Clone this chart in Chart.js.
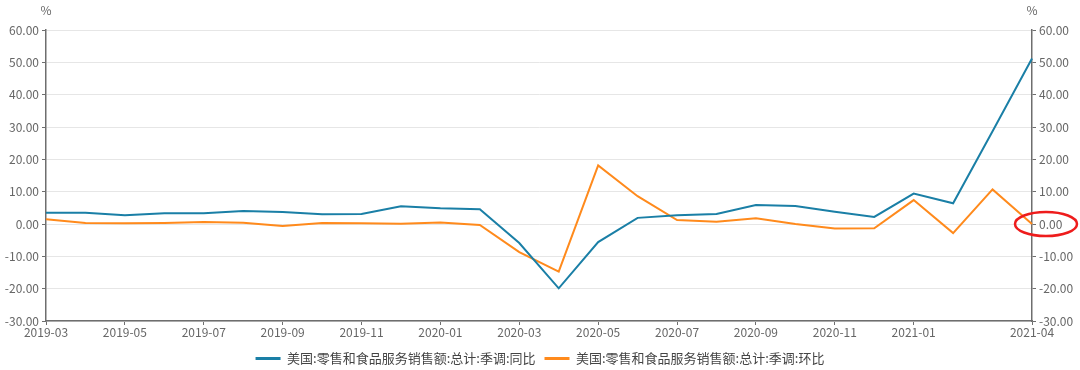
<!DOCTYPE html>
<html>
<head>
<meta charset="utf-8">
<script src="https://cdn.jsdelivr.net/npm/chart.js@4/dist/chart.umd.min.js"></script>
<style>
  html, body { margin:0; padding:0; background:#fff; }
  #wrap { width:1080px; height:370px; position:relative; }
</style>
</head>
<body>
<div id="wrap"><canvas id="retailChart" width="1080" height="370"></canvas></div>
<script>
// months on the x axis
const months = ['2019-03','2019-04','2019-05','2019-06','2019-07','2019-08','2019-09','2019-10','2019-11','2019-12',
  '2020-01','2020-02','2020-03','2020-04','2020-05','2020-06','2020-07','2020-08','2020-09','2020-10','2020-11','2020-12',
  '2021-01','2021-02','2021-03','2021-04'];
// 同比 (yoy) and 环比 (mom), %
const yoy = [3.5, 3.5, 2.7, 3.3, 3.3, 4.0, 3.7, 3.0, 3.1, 5.5, 4.9, 4.6, -5.9, -19.9, -5.6, 1.9, 2.7, 3.1, 5.9, 5.6, 3.8, 2.2, 9.4, 6.4, 28.7, 51.2];
const mom = [1.5, 0.3, 0.2, 0.3, 0.6, 0.4, -0.6, 0.3, 0.2, 0.1, 0.5, -0.3, -8.7, -14.7, 18.1, 8.6, 1.2, 0.7, 1.8, 0.0, -1.4, -1.3, 7.4, -2.8, 10.7, 0.0];
const seriesNames = ['美国:零售和食品服务销售额:总计:季调:同比', '美国:零售和食品服务销售额:总计:季调:环比'];
const yMin = -30, yMax = 60, yStep = 10;

const fontFamily = '"Noto Sans CJK SC", "Noto Sans", sans-serif';
const tickColor = '#666';
const axisColor = '#6e6e6e';
const gridColor = '#e6e6e6';

// "%" unit labels and the red ring around 0.00 on the right axis
const extras = {
  id: 'extras',
  afterDraw(chart) {
    const ctx = chart.ctx, area = chart.chartArea;
    const y0 = chart.scales.yRight.getPixelForValue(0);
    ctx.save();
    ctx.font = '12px ' + fontFamily;
    ctx.fillStyle = tickColor;
    ctx.textAlign = 'center';
    ctx.textBaseline = 'middle';
    ctx.fillText('%', area.left, 10);
    ctx.fillText('%', area.right, 10);
    ctx.strokeStyle = '#ee1c1c';
    ctx.lineWidth = 2.5;
    ctx.beginPath();
    ctx.ellipse(area.right + 14, y0, 31, 12, 0, 0, Math.PI * 2);
    ctx.stroke();
    ctx.restore();
  }
};

const yTicks = {
  color: tickColor,
  font: { family: fontFamily, size: 12 },
  stepSize: yStep,
  padding: 3,
  callback: v => v.toFixed(2)
};

new Chart(document.getElementById('retailChart'), {
  type: 'line',
  data: {
    labels: months,
    datasets: [
      { label: seriesNames[0], data: yoy, borderColor: '#1a7fa6', backgroundColor: '#1a7fa6',
        borderWidth: 2, pointRadius: 0, tension: 0, yAxisID: 'yLeft' },
      { label: seriesNames[1], data: mom, borderColor: '#ff8a1c', backgroundColor: '#ff8a1c',
        borderWidth: 2, pointRadius: 0, tension: 0, yAxisID: 'yLeft' }
    ]
  },
  options: {
    responsive: false,
    animation: false,
    layout: { padding: { top: 30, left: 0, right: 0, bottom: 0 } },
    plugins: {
      tooltip: { enabled: false },
      legend: {
        position: 'bottom',
        maxHeight: 27,
        labels: {
          color: '#444',
          font: { family: fontFamily, size: 13 },
          boxWidth: 25,
          boxHeight: 3,
          padding: 9,
          generateLabels(chart) {
            return Chart.defaults.plugins.legend.labels.generateLabels(chart).map(l => ({ ...l, lineWidth: 0 }));
          }
        }
      }
    },
    scales: {
      x: {
        grid: { display: true, drawOnChartArea: false, color: axisColor, tickLength: 4 },
        border: { color: axisColor, width: 1.5 },
        ticks: {
          color: tickColor,
          font: { family: fontFamily, size: 12 },
          autoSkip: false,
          maxRotation: 0,
          padding: 0,
          callback(val, i) {
            if (i === months.length - 1) return months[i];
            if (i % 2 === 0 && i < months.length - 2) return months[i];
            return null;
          }
        },
        afterFit(s) { s.height = 22; }
      },
      yLeft: {
        position: 'left',
        min: yMin, max: yMax,
        grid: { color: gridColor, tickLength: 4, tickColor: axisColor },
        border: { color: axisColor, width: 1.5 },
        ticks: yTicks,
        afterFit(s) { s.width = 46; }
      },
      yRight: {
        position: 'right',
        min: yMin, max: yMax,
        grid: { drawOnChartArea: false, tickLength: 4, color: axisColor },
        border: { color: axisColor, width: 1.5 },
        ticks: yTicks,
        afterFit(s) { s.width = 48; }
      }
    }
  },
  plugins: [extras]
});
</script>
</body>
</html>
